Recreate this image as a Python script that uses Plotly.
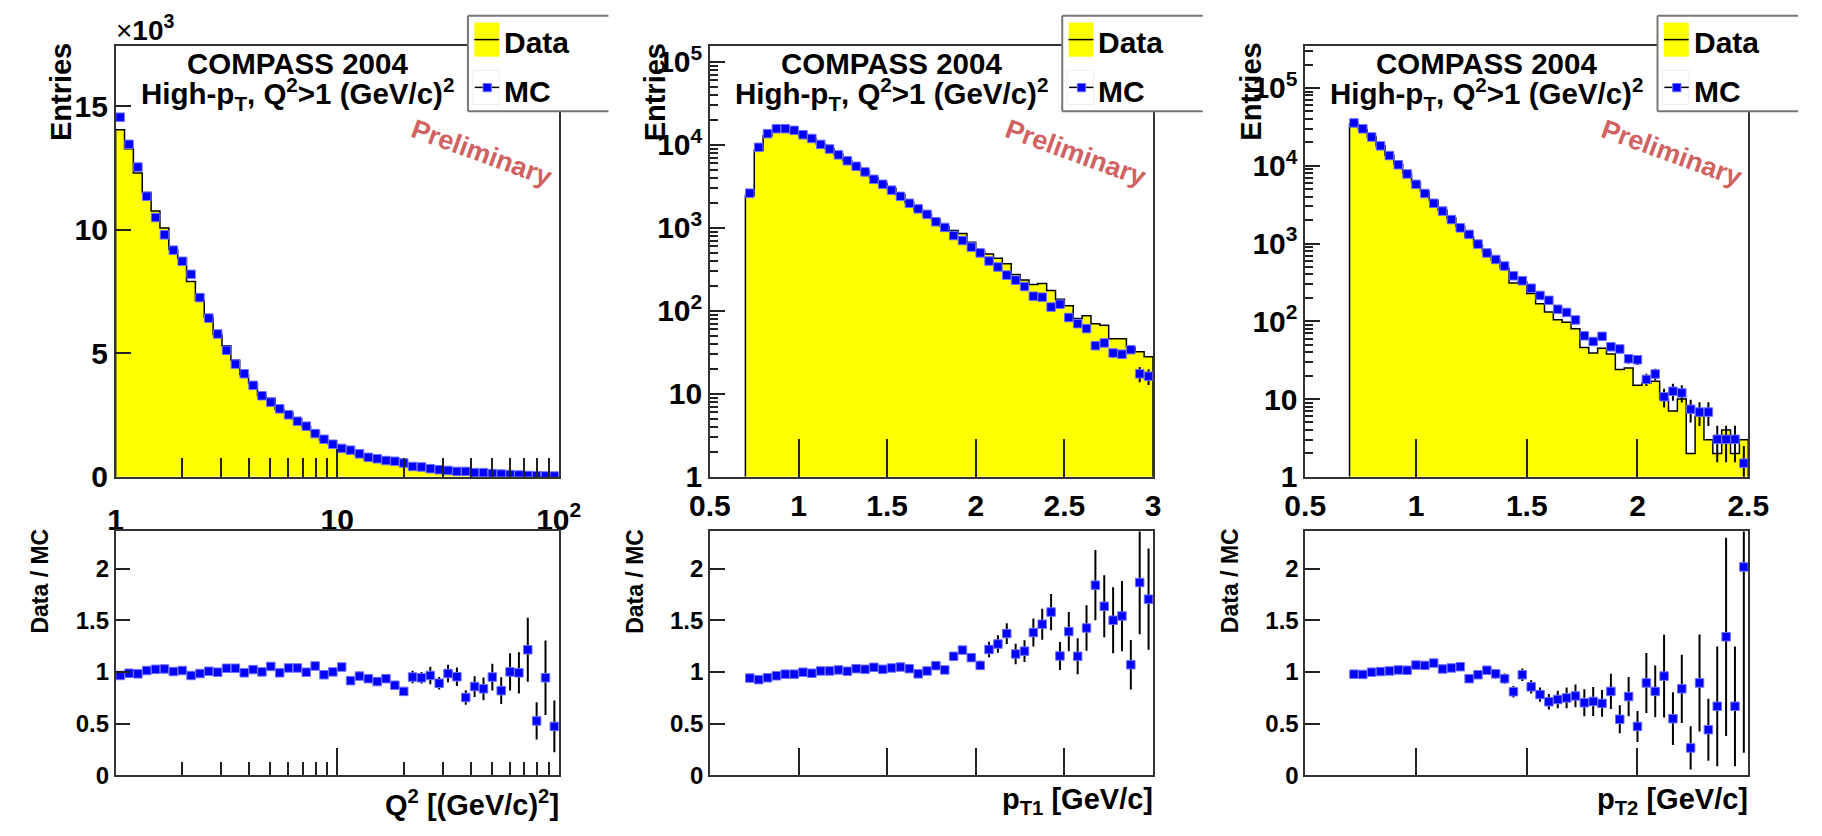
import numpy as np
import plotly.graph_objects as go

W, H = 1822, 836
FONT = "Liberation Sans, Arial, Helvetica, sans-serif"

# ---------------- Q^2 distribution: 50 logarithmic bins from 1 to 100 (GeV/c)^2 ----------------
q2_range = (1.0, 100.0)
q2_nbins = 50
q2_data = [14040, 13275, 12290, 11500, 10750, 10065, 9195, 8835, 7905, 7135,
           6460, 5760, 5300, 4720, 4135, 3780, 3280, 3180, 2725, 2605,
           2335, 2045, 1850, 1477, 1320, 1204, 988, 892, 738, 661,
           616, 549, 454, 399, 377, 318, 258, 256, 210, 165,
           146, 142, 124, 90, 90, 71, 67, 24, 34, 14]
q2_mc = [14550, 13450, 12530, 11350, 10490, 9790, 9170, 8720, 8190, 7250,
         6420, 5780, 5120, 4560, 4170, 3700, 3280, 3020, 2750, 2510,
         2250, 2050, 1750, 1520, 1320, 1150, 1080, 930, 790, 730,
         660, 630, 560, 420, 400, 330, 290, 260, 220, 220,
         170, 170, 130, 110, 90, 72, 55, 45, 36, 30]
q2_ratio = [0.965, 0.987, 0.981, 1.013, 1.025, 1.028, 1.003, 1.013, 0.965, 0.984,
            1.006, 0.997, 1.035, 1.035, 0.991, 1.022, 1.000, 1.053, 0.991, 1.038,
            1.038, 0.997, 1.057, 0.972, 1.000, 1.047, 0.915, 0.959, 0.934, 0.906,
            0.934, 0.871, 0.811, 0.950, 0.943, 0.965, 0.890, 0.984, 0.953, 0.752,
            0.858, 0.836, 0.950, 0.818, 1.000, 0.991, 1.214, 0.525, 0.943, 0.472]
q2_ratio_err = [0.012, 0.012, 0.012, 0.013, 0.013, 0.014, 0.014, 0.015, 0.015, 0.016,
                0.017, 0.018, 0.019, 0.020, 0.021, 0.022, 0.023, 0.024, 0.025, 0.026,
                0.028, 0.029, 0.030, 0.031, 0.032, 0.033, 0.034, 0.035, 0.036, 0.037,
                0.038, 0.039, 0.040, 0.060, 0.055, 0.085, 0.060, 0.085, 0.090, 0.070,
                0.100, 0.110, 0.130, 0.130, 0.180, 0.200, 0.310, 0.180, 0.360, 0.250]

# ---------------- p_T1 distribution: 46 bins of 0.05 GeV/c from 0.7 to 3.0 ----------------
pt1_range = (0.7, 3.0)
pt1_nbins = 46
pt1_data = [2456, 8603, 12825, 15007, 15257, 14572, 13160, 11745, 10191, 8970,
            7693, 6448, 5670, 4828, 3999, 3424, 2948, 2502, 2031, 1658,
            1463, 1251, 1029, 927, 850, 667, 529, 483, 428, 369,
            274, 235, 207, 213, 175, 138, 115, 81, 87, 70,
            67, 46, 46, 36, 32, 28]
pt1_mc = [2613, 9300, 13600, 15600, 15600, 14900, 13200, 11900, 10100, 8890,
          7550, 6410, 5500, 4710, 3830, 3340, 2840, 2390, 1970, 1690,
          1450, 1180, 1010, 805, 702, 586, 498, 397, 337, 269,
          234, 196, 150, 146, 111, 120, 83, 70, 61, 38,
          41, 31, 30, 34, 17.4, 16.3]
pt1_mc_err = [40, 70, 85, 90, 90, 88, 83, 78, 72, 67,
              62, 57, 53, 49, 44, 41, 38, 35, 31, 29,
              27, 24, 22, 20, 19, 17, 15, 14, 12.5, 11,
              10, 9.5, 8, 8, 7, 7.5, 6, 5.5, 5.2, 4,
              4.3, 3.7, 3.6, 3.9, 3.6, 3.5]
pt1_ratio = [0.940, 0.925, 0.943, 0.962, 0.978, 0.978, 0.997, 0.987, 1.009, 1.009,
             1.019, 1.006, 1.031, 1.025, 1.044, 1.025, 1.038, 1.047, 1.031, 0.981,
             1.009, 1.060, 1.019, 1.151, 1.211, 1.138, 1.063, 1.217, 1.270, 1.371,
             1.173, 1.201, 1.381, 1.462, 1.579, 1.154, 1.390, 1.151, 1.425, 1.840,
             1.635, 1.500, 1.541, 1.069, 1.865, 1.704]
pt1_ratio_err = [0.025, 0.015, 0.013, 0.012, 0.012, 0.012, 0.013, 0.013, 0.014, 0.015,
                 0.016, 0.017, 0.018, 0.019, 0.021, 0.022, 0.024, 0.026, 0.028, 0.030,
                 0.032, 0.035, 0.037, 0.040, 0.040, 0.042, 0.045, 0.075, 0.085, 0.100,
                 0.100, 0.105, 0.135, 0.150, 0.175, 0.135, 0.190, 0.175, 0.220, 0.340,
                 0.300, 0.320, 0.340, 0.240, 0.500, 0.490]

# ---------------- p_T2 distribution: 45 bins of 0.04 GeV/c from 0.7 to 2.5 ----------------
pt2_range = (0.7, 2.5)
pt2_nbins = 45
pt2_data = [34719, 29055, 23330, 18054, 13622, 10496, 7976, 6140, 4677, 3570,
            2683, 2107, 1670, 1224, 955, 767, 611, 479, 310, 323,
            227, 168, 132, 105, 97, 80, 46, 39, 45, 38,
            24, 25, 15, 16, 17, 10, 7, 10, 2, 6,
            3, 2, 4, 2, 3]
pt2_mc = [35500, 29800, 23400, 18000, 13500, 10300, 7850, 5760, 4400, 3290,
          2610, 2030, 1590, 1310, 982, 755, 623, 513, 384, 332,
          266, 215, 186, 143, 130, 104, 65, 55, 64, 47,
          44, 33, 32, 17.9, 21, 10.7, 12.6, 12.0, 7.4, 6.8,
          6.8, 3.04, 3.04, 3.04, 1.5]
pt2_mc_err = [160, 145, 130, 115, 100, 88, 77, 66, 58, 50,
              45, 40, 35, 32, 28, 24, 22, 20, 17, 16,
              14, 12.5, 11.5, 10, 9.5, 8.5, 6.5, 6, 6.5, 5.5,
              5.3, 4.5, 4.5, 3.2, 3.5, 2.9, 3.1, 3.0, 2.4, 2.3,
              2.3, 1.5, 1.5, 1.5, 1.0]
pt2_ratio = [0.978, 0.975, 0.997, 1.003, 1.009, 1.019, 1.016, 1.066, 1.063, 1.085,
             1.028, 1.038, 1.050, 0.934, 0.972, 1.016, 0.981, 0.934, 0.808, 0.972,
             0.855, 0.780, 0.711, 0.733, 0.748, 0.767, 0.701, 0.714, 0.695, 0.811,
             0.541, 0.761, 0.472, 0.893, 0.811, 0.959, 0.547, 0.836, 0.264, 0.893,
             0.440, 0.667, 1.340, 0.667, 2.016]
pt2_ratio_err = [0.008, 0.009, 0.010, 0.011, 0.012, 0.014, 0.016, 0.018, 0.020, 0.022,
                 0.024, 0.027, 0.030, 0.033, 0.036, 0.040, 0.045, 0.050, 0.055, 0.060,
                 0.065, 0.070, 0.075, 0.085, 0.100, 0.110, 0.130, 0.140, 0.130, 0.170,
                 0.135, 0.190, 0.150, 0.290, 0.250, 0.400, 0.255, 0.330, 0.210, 0.470,
                 0.300, 0.580, 0.960, 0.580, 1.800]

# ---------------- text ----------------
experiment_label = "COMPASS 2004"
selection_label = "High-p<sub>T</sub>, Q<sup>2</sup>&gt;1 (GeV/c)<sup>2</sup>"
status_label = "Preliminary"
legend_labels = ["Data", "MC"]
y_title_top = "Entries"
y_title_bottom = "Data / MC"
x_titles = ["Q<sup>2</sup> [(GeV/c)<sup>2</sup>]",
            "p<sub>T1</sub> [GeV/c]",
            "p<sub>T2</sub> [GeV/c]"]
y_scale_label = "×<b>10<sup>3</sup></b>"

ratio_ticks = [0, 0.5, 1, 1.5, 2]
ratio_ticktext = ["0", "0.5", "1", "1.5", "2"]
log_ticks = [1, 10, 100, 1e3, 1e4, 1e5]
log_ticktext = ["1", "10", "10<sup>2</sup>", "10<sup>3</sup>", "10<sup>4</sup>", "10<sup>5</sup>"]

# ---------------- geometry (pixels) ----------------
FRAME_W = 454
TOP_Y = (42, 484)
BOT_Y = (540, 790)
RATIO_MAX = 2.36

YELLOW = "#ffff00"
BLUE = "#0000ff"
FRAME_C = "#333333"
TICK_C = "#222222"


def X(px):
    return px / W


def Y(py):
    return 1 - py / H


def step_outline(edges, counts, base):
    xs = np.repeat(edges, 2)
    ys = np.concatenate([[base], np.repeat(np.asarray(counts, float), 2), [base]])
    return xs, ys


q2_edges = np.logspace(np.log10(q2_range[0]), np.log10(q2_range[1]), q2_nbins + 1)
pt1_edges = np.linspace(pt1_range[0], pt1_range[1], pt1_nbins + 1)
pt2_edges = np.linspace(pt2_range[0], pt2_range[1], pt2_nbins + 1)

panels = [
    dict(left=97, edges=q2_edges, data=q2_data, mc=q2_mc, mc_err=None,
         ratio=q2_ratio, ratio_err=q2_ratio_err,
         xtype="log", xrange=[0, 2], xticks=[1, 10, 100], xtext=["1", "10", "10<sup>2</sup>"],
         xminor=[m * 10 ** k for k in (0, 1) for m in range(2, 10)],
         ylog=False, ytop=17430, label_standoff=15, xtitle_y=819),
    dict(left=706, edges=pt1_edges, data=pt1_data, mc=pt1_mc, mc_err=pt1_mc_err,
         ratio=pt1_ratio, ratio_err=pt1_ratio_err,
         xtype="linear", xrange=[0.5, 3.0], xticks=[0.5, 1, 1.5, 2, 2.5, 3],
         xtext=["0.5", "1", "1.5", "2", "2.5", "3"], xminor=None,
         ylog=True, ytop=5.19, label_standoff=1, xtitle_y=816),
    dict(left=1316, edges=pt2_edges, data=pt2_data, mc=pt2_mc, mc_err=pt2_mc_err,
         ratio=pt2_ratio, ratio_err=pt2_ratio_err,
         xtype="linear", xrange=[0.5, 2.5], xticks=[0.5, 1, 1.5, 2, 2.5],
         xtext=["0.5", "1", "1.5", "2", "2.5"], xminor=None,
         ylog=True, ytop=5.54, label_standoff=1, xtitle_y=816),
]

base_axis = dict(showline=True, linecolor=FRAME_C, linewidth=1.5, mirror=True,
                 showgrid=False, zeroline=False, ticks="inside", tickcolor=TICK_C,
                 tickwidth=1.5, fixedrange=True, tickmode="array")


def tfont(size, color="black"):
    return dict(family=FONT, size=size, color=color, weight="bold")


fig = go.Figure()
layout = dict(width=W, height=H, autosize=False, margin=dict(l=0, r=0, t=0, b=0),
              paper_bgcolor="white", plot_bgcolor="white", showlegend=False)
shapes, annotations = [], []

marker_style = dict(symbol="square", size=8.5, color=BLUE, line=dict(color="#7070ff", width=1))
err_style = dict(type="data", visible=True, color="black", thickness=2, width=0)


def ann(text, px, py, font, xanchor="center", yanchor="middle", **kw):
    annotations.append(dict(text=text, x=X(px), y=Y(py), xref="paper", yref="paper",
                            xanchor=xanchor, yanchor=yanchor, showarrow=False,
                            font=font, **kw))


def rect(x0, y0, x1, y1, **kw):
    shapes.append(dict(type="rect", xref="paper", yref="paper", layer="above",
                       x0=X(x0), x1=X(x1), y0=Y(y0), y1=Y(y1), **kw))


def seg(x0, y0, x1, y1, color, width):
    shapes.append(dict(type="line", xref="paper", yref="paper", layer="above",
                       x0=X(x0), x1=X(x1), y0=Y(y0), y1=Y(y1),
                       line=dict(color=color, width=width)))


for i, p in enumerate(panels):
    nt, nb = i + 1, i + 4
    xt, yt = ("x" if nt == 1 else f"x{nt}"), ("y" if nt == 1 else f"y{nt}")
    xb, yb = f"x{nb}", f"y{nb}"
    L = p["left"]
    R = L + FRAME_W
    xdom = [X(L), X(R)]

    centers = (p["edges"][:-1] + p["edges"][1:]) / 2

    # ---- upper pad: data histogram + MC points ----
    base = 1.0 if p["ylog"] else 0.0
    hx, hy = step_outline(p["edges"], p["data"], base)
    fig.add_trace(go.Scatter(x=hx, y=hy, mode="lines", fill="toself", fillcolor=YELLOW,
                             line=dict(color="black", width=1.5), hoverinfo="skip",
                             xaxis=xt, yaxis=yt))
    mc_kw = dict(x=centers, y=p["mc"], mode="markers", marker=marker_style,
                 xaxis=xt, yaxis=yt, hoverinfo="skip")
    if p["mc_err"] is not None:
        mc_kw["error_y"] = dict(err_style, array=p["mc_err"])
    fig.add_trace(go.Scatter(**mc_kw))

    # ---- lower pad: Data / MC ratio ----
    fig.add_trace(go.Scatter(x=centers, y=p["ratio"], mode="markers", marker=marker_style,
                             error_y=dict(err_style, array=p["ratio_err"]),
                             xaxis=xb, yaxis=yb, hoverinfo="skip"))

    # ---- axes ----
    xcommon = dict(base_axis, type=p["xtype"], range=p["xrange"], domain=xdom,
                   tickvals=p["xticks"], ticktext=p["xtext"])
    top_x = dict(xcommon, anchor=yt, ticklen=38 if p["xminor"] is None else 28,
                 tickfont=tfont(30), ticklabelstandoff=p["label_standoff"])
    bot_x = dict(xcommon, anchor=yb, ticklen=27, showticklabels=False)
    if p["xminor"] is not None:
        top_x["minor"] = dict(ticks="inside", tickmode="array", tickvals=p["xminor"],
                              ticklen=19, tickcolor=TICK_C, tickwidth=1.5, showgrid=False)
        bot_x["minor"] = dict(ticks="inside", tickmode="array", tickvals=p["xminor"],
                              ticklen=13, tickcolor=TICK_C, tickwidth=1.5, showgrid=False)

    if p["ylog"]:
        yminor = [m * 10 ** k for k in range(6) for m in range(2, 10)
                  if np.log10(m * 10 ** k) < p["ytop"]]
        top_y = dict(base_axis, type="log", range=[0, p["ytop"]], tickvals=log_ticks,
                     ticktext=log_ticktext, ticklen=15,
                     minor=dict(ticks="inside", tickmode="array", tickvals=yminor, ticklen=8,
                                tickcolor=TICK_C, tickwidth=1.5, showgrid=False))
    else:
        top_y = dict(base_axis, type="linear", range=[0, p["ytop"]],
                     tickvals=[0, 5000, 10000, 15000], ticktext=["0", "5", "10", "15"], ticklen=16)
    top_y.update(anchor=xt, domain=[Y(TOP_Y[1]), Y(TOP_Y[0])], tickfont=tfont(30))
    bot_y = dict(base_axis, type="linear", range=[0, RATIO_MAX], tickvals=ratio_ticks,
                 ticktext=ratio_ticktext, ticklen=15, anchor=xb,
                 domain=[Y(BOT_Y[1]), Y(BOT_Y[0])], tickfont=tfont(24))

    layout["xaxis" if nt == 1 else f"xaxis{nt}"] = top_x
    layout["yaxis" if nt == 1 else f"yaxis{nt}"] = top_y
    layout[f"xaxis{nb}"] = bot_x
    layout[f"yaxis{nb}"] = bot_y

    # ---- texts ----
    ann(experiment_label, L + 186, 59.5, tfont(29.5))
    ann(selection_label, L + 186, 91, tfont(29.5))
    ann(status_label, L + 375, 152, tfont(27, "#d06262"), textangle=20)
    ann(y_title_top, L - 56, 37, tfont(29), yanchor="top", textangle=-90)
    ann(y_title_bottom, L - 77, 535, tfont(23), yanchor="top", textangle=-90)
    ann(x_titles[i], R + 2, p["xtitle_y"], tfont(29), xanchor="right")
    if not p["ylog"]:
        ann(y_scale_label, L - 2, 44, dict(family=FONT, size=28, color="black"),
            xanchor="left", yanchor="bottom")

    # ---- legend box ----
    lx0, lx1, ly0, ly1 = L + 361, L + 505, 11, 109
    rect(lx0, ly0, lx1, ly1, fillcolor="white", line=dict(width=0))
    seg(lx1, ly0, lx0, ly0, "#777777", 2)
    seg(lx0, ly0, lx0, ly1, "#777777", 2)
    seg(lx0, ly1, lx1, ly1, "#777777", 2)
    rect(L + 367.5, 18, L + 393, 53, fillcolor=YELLOW, line=dict(width=0))
    seg(L + 367.5, 35.5, L + 393, 35.5, "black", 1.5)
    rect(L + 366, 67, L + 393, 102, line=dict(color="#eeeeee", width=1))
    seg(L + 368, 84.5, L + 393, 84.5, "black", 1.5)
    rect(L + 376.5, 80.5, L + 385, 89, fillcolor=BLUE, line=dict(color="#7070ff", width=1))
    ann(legend_labels[0], L + 396, 38.5, tfont(30), xanchor="left")
    ann(legend_labels[1], L + 396, 88.5, tfont(30), xanchor="left")

layout["shapes"] = shapes
layout["annotations"] = annotations
fig.update_layout(**layout)
fig.write_html("out.html")
